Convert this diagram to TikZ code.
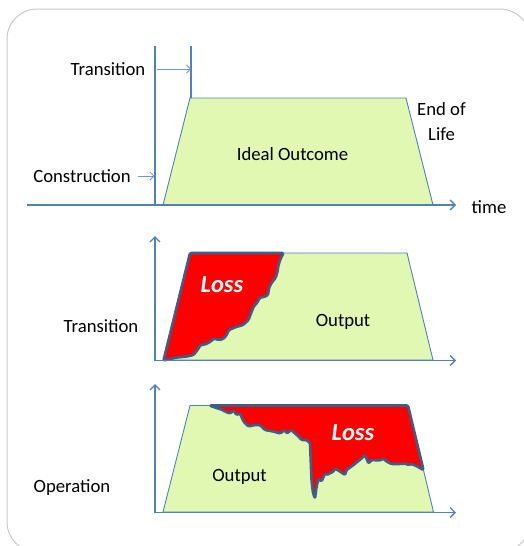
\documentclass[tikz,border=0pt]{standalone}
\usepackage{fontspec}
\setmainfont{Carlito}
\usetikzlibrary{arrows.meta}
\definecolor{axisblue}{RGB}{79,129,189}
\definecolor{lightblue}{RGB}{110,150,205}
\definecolor{edgeblue}{RGB}{59,94,140}
\definecolor{outgreen}{RGB}{225,248,178}
\definecolor{lossred}{RGB}{255,0,0}
\definecolor{framegray}{RGB}{200,200,200}
\tikzset{
  lbl/.style={inner sep=0pt, font=\fontsize{18.7}{25}\selectfont, align=center},
  losslbl/.style={inner sep=0pt, text=white, font=\fontsize{24.5}{28}\selectfont\bfseries\itshape},
  axis/.style={draw=axisblue, line width=1.3pt, -{Straight Barb[length=5pt,width=10pt]}},
  guide/.style={draw=axisblue, line width=1.3pt},
  pointer/.style={draw=lightblue, line width=0.8pt, -{Straight Barb[length=4pt,width=8pt]}},
  outcome/.style={fill=outgreen, draw=axisblue, line width=0.9pt, line join=round},
  loss/.style={fill=lossred, draw=edgeblue, line width=2.6pt, line join=round, rounded corners=1.2pt},
}
\begin{document}
\begin{tikzpicture}[x=1pt,y=-1pt]
\useasboundingbox (0,0) rectangle (524,546);
% frame
\draw[framegray, line width=1pt, rounded corners=30pt] (7,9) rectangle (530,552);

% ---------- top panel: ideal outcome ----------
\draw[outcome] (163,205) -- (190,98) -- (406,98) -- (433,205) -- cycle;
\coordinate (o1) at (27,205);
\coordinate (t1) at (456,205);
\draw[axis] (o1) -- (t1);
\coordinate (c1top) at (155,46);
\coordinate (c1bot) at (155,205);
\draw[guide] (c1top) -- (c1bot);
\coordinate (c2top) at (191,46);
\coordinate (c2bot) at (191,98);
\draw[guide] (c2top) -- (c2bot);

\node[lbl] (trlabel) at (108,69) {Transition};
\coordinate (trstart) at (157,69);
\coordinate (trend) at (191,69);
\draw[pointer] (trstart) -- (trend);

\node[lbl] (conlabel) at (82,176) {Construction};
\coordinate (conend) at (154.5,176);
\path (conlabel.east) ++(7,0) coordinate (constart);
\draw[pointer] (constart) -- (conend);

\node[lbl] (eol) at (441.5,122) {End of\\Life};
\node[lbl] (ideal) at (292.5,154) {Ideal Outcome};
\node[lbl] (time) at (489,207) {time};

% ---------- middle panel: transition loss ----------
\draw[outcome] (163,360) -- (190,253) -- (407,253) -- (433,360) -- cycle;
\draw[loss] (163.5,360.5) -- (190,253) -- (283.5,253) -- (280.5,259) -- (278.5,265)
  -- (277.5,272) -- (275.5,278) -- (271.5,283) -- (269,288) -- (268,295)
  -- (264,297) -- (260,297.5) -- (257,303) -- (254,306) -- (251.5,312)
  -- (248.5,320) -- (243,325) -- (236,327) -- (229,330) -- (226,336)
  -- (223,339) -- (219,340) -- (214,338.5) -- (210,342) -- (205,344.5)
  -- (200.5,345) -- (197.5,350) -- (193.5,355) -- (187,356.5) -- (177,357.5)
  -- (170,359) -- cycle;
\coordinate (o2) at (155,360.5);
\coordinate (y2) at (155,236);
\coordinate (x2) at (456,360.5);
\draw[axis] (o2) -- (y2);
\draw[axis] (o2) -- (x2);
\node[losslbl] (loss2) at (222,285) {Loss};
\node[lbl] (out2) at (343,321.5) {Output};
\node[lbl] (trans2) at (101,326) {Transition};

% ---------- bottom panel: operation loss ----------
\draw[outcome] (163,512) -- (190,405.5) -- (408,405.5) -- (433.5,512) -- cycle;
\draw[loss] (209.5,405.5) -- (408,405.5) -- (423.5,470) -- (421.5,469) -- (416.5,466)
  -- (411.5,464) -- (408.5,465) -- (405,463.5) -- (400,464) -- (391.5,464)
  -- (386.5,461.5) -- (383.5,458.5) -- (380,460.5) -- (371.5,460) -- (368.5,463.5)
  -- (365,455) -- (361.5,458.5) -- (353.5,465) -- (346.5,470) -- (345,475)
  -- (340,471.5) -- (335,468.5) -- (333.5,471.5) -- (326.5,475) -- (325,473.5)
  -- (321.5,481.5) -- (318.5,478.5) -- (316.5,487) -- (315,498.5) -- (313,493)
  -- (311.5,480) -- (310,443) -- (306.5,440) -- (301.5,440) -- (298.5,436.5)
  -- (295,433.5) -- (291.5,430) -- (286.5,433.5) -- (285,430) -- (280,433.5)
  -- (273.5,431.5) -- (265,430) -- (260,425) -- (255,425) -- (248.5,426.5)
  -- (243.5,421.5) -- (240,413.5) -- (236.5,415) -- (233.5,410.5) -- (230,413.5)
  -- (225,411.5) -- (221.5,409.5) -- (216.5,408) -- cycle;
\coordinate (o3) at (155,512.5);
\coordinate (y3) at (155,384);
\coordinate (x3) at (456,512.5);
\draw[axis] (o3) -- (y3);
\draw[axis] (o3) -- (x3);
\node[losslbl] (loss3) at (353,432.5) {Loss};
\node[lbl] (out3) at (239.5,477) {Output};
\node[lbl] (oper3) at (72,488) {Operation};
\end{tikzpicture}
\end{document}
